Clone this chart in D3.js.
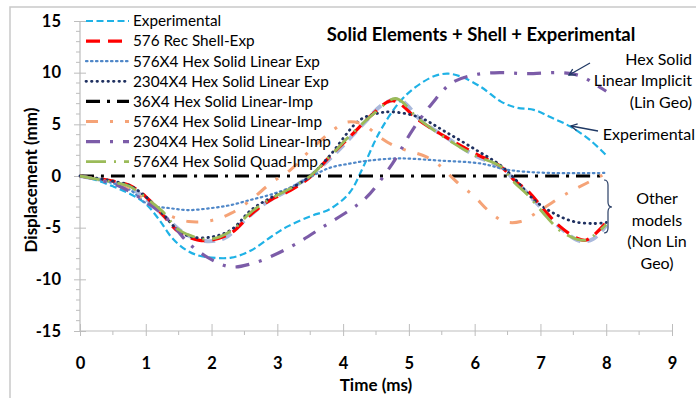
<!DOCTYPE html>
<html>
<head>
<meta charset="utf-8">
<script src="https://cdn.jsdelivr.net/npm/d3@7"></script>
<style>
  html, body { margin: 0; padding: 0; background: #fff; }
  svg { display: block; }
  text { font-family: Lato, "Open Sans", "Liberation Sans", sans-serif; fill: #000; }
</style>
</head>
<body>
<svg id="chart" width="696" height="398"></svg>
<script>
// ---------------- data ----------------
const xTicks = [0, 1, 2, 3, 4, 5, 6, 7, 8, 9];
const yTicks = [-15, -10, -5, 0, 5, 10, 15];

const seriesNames = [
  "Experimental",
  "576 Rec Shell-Exp",
  "576X4 Hex Solid Linear Exp",
  "2304X4 Hex Solid Linear Exp",
  "36X4 Hex Solid Linear-Imp",
  "576X4 Hex Solid Linear-Imp",
  "2304X4 Hex Solid Linear-Imp",
  "576X4 Hex Solid Quad-Imp"
];

const expT = [0, 0.25, 0.5, 0.75, 1.0, 1.2, 1.4, 1.6, 1.8, 2.0, 2.3, 2.6, 2.9, 3.15, 3.5, 3.8, 4.1, 4.3, 4.55, 4.85, 5.1, 5.4, 5.6, 5.8, 6.1, 6.4, 6.65, 6.9, 7.15, 7.45, 7.75, 8.0];
const expY = [0, -0.4, -1.0, -1.7, -2.7, -4.2, -6.0, -7.1, -7.7, -7.9, -7.9, -7.2, -5.9, -4.9, -3.9, -3.2, -1.6, 0.8, 4.2, 7.1, 8.6, 9.7, 9.9, 9.6, 8.6, 7.2, 6.6, 6.4, 5.7, 4.8, 3.5, 2.0];

const shellT = [0, 0.25, 0.5, 0.75, 1.0, 1.25, 1.5, 1.8, 2.0, 2.3, 2.6, 2.9, 3.2, 3.5, 3.8, 4.15, 4.45, 4.75, 5.15, 5.55, 6.0, 6.4, 6.6, 6.8, 7.1, 7.3, 7.55, 7.7, 8.0];
const shellY = [0, -0.2, -0.5, -0.9, -2.0, -3.7, -5.4, -6.2, -6.2, -5.5, -3.7, -2.3, -1.4, -0.1, 1.9, 4.1, 6.0, 7.3, 5.4, 3.8, 2.2, 0.9, -0.4, -1.4, -3.6, -4.9, -6.0, -6.2, -4.5];

const lin576ExpT = [0, 0.25, 0.5, 0.75, 1.05, 1.35, 1.65, 2.0, 2.3, 2.6, 2.9, 3.2, 3.5, 3.8, 4.1, 4.4, 4.85, 5.45, 6.1, 6.5, 7.1, 8.0];
const lin576ExpY = [0, -0.3, -0.7, -1.3, -2.8, -3.1, -3.3, -3.1, -2.8, -2.3, -1.8, -1.1, -0.1, 0.8, 1.2, 1.5, 1.7, 1.5, 1.2, 0.6, 0.3, 0.3];

const lin2304ExpT = [0, 0.25, 0.5, 0.75, 1.0, 1.25, 1.5, 1.7, 2.0, 2.3, 2.6, 2.9, 3.2, 3.5, 3.8, 4.25, 4.55, 4.75, 5.15, 5.55, 6.0, 6.4, 6.6, 6.9, 7.2, 7.5, 7.8, 8.0];
const lin2304ExpY = [0, -0.2, -0.5, -0.9, -2.0, -3.6, -5.3, -5.9, -5.9, -5.2, -3.3, -2.1, -1.2, 0.0, 2.0, 5.4, 6.1, 6.2, 5.7, 4.3, 2.6, 1.0, -0.2, -2.3, -3.6, -4.4, -4.6, -4.5];

const lin36ImpT = [0, 2, 4, 6, 8];
const lin36ImpY = [0, 0, 0, 0, 0];

const lin576ImpT = [0, 0.25, 0.5, 0.75, 1.05, 1.35, 1.65, 2.0, 2.3, 2.6, 2.9, 3.2, 3.5, 3.8, 4.05, 4.3, 4.55, 4.75, 4.95, 5.25, 5.45, 5.75, 6.0, 6.2, 6.45, 6.7, 7.0, 7.4, 7.7, 7.95];
const lin576ImpY = [0, -0.3, -0.7, -1.3, -2.6, -3.8, -4.4, -4.3, -3.6, -2.3, -0.7, 0.6, 2.5, 4.2, 5.2, 5.0, 3.8, 3.0, 2.5, 1.9, 1.1, -0.7, -2.0, -3.3, -4.4, -4.4, -3.3, -1.7, -0.7, 0.1];

const lin2304ImpT = [0, 0.3, 0.6, 1.05, 1.35, 1.65, 2.0, 2.3, 2.6, 2.9, 3.3, 3.7, 4.1, 4.35, 4.75, 5.05, 5.35, 5.65, 6.0, 6.4, 6.8, 7.3, 7.6, 7.9, 8.0];
const lin2304ImpY = [0, -0.4, -1.0, -2.7, -4.3, -6.5, -8.1, -8.8, -8.5, -7.8, -6.5, -4.9, -3.3, -2.1, 1.2, 4.4, 7.0, 9.0, 9.8, 10.0, 9.9, 10.0, 9.7, 8.6, 8.2];

const quad576ImpT = [0, 0.25, 0.5, 0.75, 1.0, 1.25, 1.5, 1.8, 2.0, 2.3, 2.6, 2.9, 3.2, 3.5, 3.8, 4.15, 4.5, 4.8, 5.15, 5.55, 6.0, 6.4, 6.6, 6.8, 7.1, 7.3, 7.55, 7.7, 8.0];
const quad576ImpY = [0, -0.3, -0.6, -1.0, -2.1, -3.4, -5.2, -6.0, -6.1, -5.3, -3.5, -2.2, -1.2, 0.0, 1.9, 4.2, 6.2, 7.5, 5.5, 3.7, 2.0, 0.9, -0.6, -1.8, -4.0, -5.3, -6.1, -6.2, -4.7];

// extra unlabelled series visible under the red / green curves
const extraT = [0, 0.25, 0.5, 0.75, 1.0, 1.3, 1.6, 1.9, 2.2, 2.5, 2.8, 3.1, 3.5, 3.9, 4.3, 4.6, 4.85, 5.2, 5.6, 6.0, 6.4, 6.7, 7.0, 7.3, 7.6, 7.8, 8.0];
const extraY = [0, -0.3, -0.6, -1.1, -2.2, -4.0, -5.6, -6.3, -6.0, -4.3, -2.7, -1.6, 0.0, 2.3, 5.0, 6.9, 7.4, 5.3, 3.6, 2.0, 0.8, -1.0, -3.0, -5.0, -6.3, -6.1, -4.8];

// ---------------- layout ----------------
const svg = d3.select("#chart");
const x = d3.scaleLinear().domain([0, 9]).range([80, 672]);
const y = d3.scaleLinear().domain([-15, 15]).range([331, 21]);

// outer chart frame
svg.append("path").attr("d", "M10,398 L10,7 L696,7")
  .attr("fill", "none").attr("stroke", "#c9c9c9").attr("stroke-width", 1.5);

const axisColor = "#bdbdbd";
// y minor ticks
const yMinor = d3.range(-15, 15.01, 1).filter(v => v % 5 !== 0);
svg.append("g").selectAll("line").data(yMinor).join("line")
  .attr("x1", 76).attr("x2", 80).attr("y1", d => y(d)).attr("y2", d => y(d))
  .attr("stroke", axisColor).attr("stroke-width", 1);
// x minor ticks
const xMinor = d3.range(0.5, 9, 1);
svg.append("g").selectAll("line").data(xMinor).join("line")
  .attr("y1", 331).attr("y2", 335).attr("x1", d => x(d)).attr("x2", d => x(d))
  .attr("stroke", axisColor).attr("stroke-width", 1);

// axes via d3
const yAxis = d3.axisLeft(y).tickValues(yTicks).tickSize(6).tickPadding(10)
  .tickFormat(d => String(d));
const gy = svg.append("g").attr("transform", "translate(80,0)").call(yAxis);
gy.select(".domain").attr("stroke", axisColor).attr("stroke-width", 1.2)
  .attr("d", `M0,${y(15)}V${y(-15)}`);
gy.selectAll(".tick line").attr("stroke", axisColor).attr("x2", -6).attr("x1", 6);
gy.selectAll(".tick text").attr("font-size", 16.5).attr("font-weight", "bold")
  .attr("font-family", "Lato, sans-serif").attr("x", -19).attr("fill", "#000");

const xAxis = d3.axisBottom(x).tickValues(xTicks).tickSize(5).tickPadding(21)
  .tickFormat(d => String(d));
const gx = svg.append("g").attr("transform", "translate(0,331)").call(xAxis);
gx.select(".domain").attr("stroke", axisColor).attr("stroke-width", 1.2)
  .attr("d", `M${x(0)},0H${x(9)}`);
gx.selectAll(".tick line").attr("stroke", axisColor).attr("y1", -7).attr("y2", 5);
gx.selectAll(".tick text").attr("font-size", 16.5).attr("font-weight", "bold")
  .attr("font-family", "Lato, sans-serif").attr("fill", "#000");

// ---------------- series ----------------
const zip = (t, v) => t.map((d, i) => [d, v[i]]);
const line = d3.line().x(d => x(d[0])).y(d => y(d[1])).curve(d3.curveCatmullRom.alpha(0.5));

const styles = [
  { data: zip(extraT, extraY), color: "#aab9dc", width: 4, dash: "11,7", legend: false },
  { data: zip(expT, expY), color: "#1fb2e6", width: 2.2, dash: "7,3.5", legend: true, name: seriesNames[0] },
  { data: zip(shellT, shellY), color: "#ff0000", width: 3.2, dash: "14,8", legend: true, name: seriesNames[1] },
  { data: zip(lin576ExpT, lin576ExpY), color: "#4f87c8", width: 2.2, dash: "1.5,3.5", cap: "round", legend: true, name: seriesNames[2] },
  { data: zip(lin2304ExpT, lin2304ExpY), color: "#1f3060", width: 2.8, dash: "0.5,5", cap: "round", legend: true, name: seriesNames[3] },
  { data: zip(lin36ImpT, lin36ImpY), color: "#000000", width: 3.2, dash: "14,7,3,7", legend: true, name: seriesNames[4] },
  { data: zip(lin576ImpT, lin576ImpY), color: "#f5a377", width: 3, dash: "12,12,3,12", legend: true, name: seriesNames[5] },
  { data: zip(lin2304ImpT, lin2304ImpY), color: "#7c5ca8", width: 3.2, dash: "14,10,3,10", legend: true, name: seriesNames[6] },
  { data: zip(quad576ImpT, quad576ImpY), color: "#9bbb59", width: 2.8, dash: "20,8,2,8", legend: true, name: seriesNames[7] }
];

const plot = svg.append("g");
styles.forEach(s => {
  plot.append("path").datum(s.data).attr("d", line)
    .attr("fill", "none").attr("stroke", s.color).attr("stroke-width", s.width)
    .attr("stroke-dasharray", s.dash).attr("stroke-linecap", s.cap || "butt");
});

// ---------------- legend ----------------
const legendItems = styles.filter(s => s.legend);
const lg = svg.append("g");
legendItems.forEach((s, i) => {
  const yy = 21 + i * 20.1;
  lg.append("line").attr("x1", 86).attr("x2", 129).attr("y1", yy).attr("y2", yy)
    .attr("stroke", s.color).attr("stroke-width", s.width)
    .attr("stroke-dasharray", s.dash).attr("stroke-linecap", s.cap || "butt");
  lg.append("text").attr("x", 133).attr("y", yy).attr("dy", "0.35em")
    .attr("font-size", 15.3).text(s.name);
});

// ---------------- titles & annotations ----------------
svg.append("text").attr("x", 481).attr("y", 35).attr("dy", "0.35em")
  .attr("text-anchor", "middle").attr("font-size", 18.5).attr("font-weight", "bold")
  .text("Solid Elements + Shell + Experimental");

svg.append("text").attr("x", 376).attr("y", 385).attr("dy", "0.35em")
  .attr("text-anchor", "middle").attr("font-size", 17).attr("font-weight", "bold")
  .text("Time (ms)");

svg.append("text").attr("transform", "translate(31,180) rotate(-90)").attr("dy", "0.35em")
  .attr("text-anchor", "middle").attr("font-size", 17).attr("font-weight", "bold")
  .text("Displacement (mm)");

const annot = [
  { t: "Hex Solid", x: 692, y: 59, a: "end" },
  { t: "Linear Implicit", x: 692, y: 80, a: "end" },
  { t: "(Lin Geo)", x: 692, y: 102, a: "end" },
  { t: "Experimental", x: 695, y: 134, a: "end" },
  { t: "Other", x: 657, y: 198, a: "middle" },
  { t: "models", x: 657, y: 220, a: "middle" },
  { t: "(Non Lin", x: 657, y: 241, a: "middle" },
  { t: "Geo)", x: 657, y: 263, a: "middle" }
];
annot.forEach(d => {
  svg.append("text").attr("x", d.x).attr("y", d.y).attr("dy", "0.35em")
    .attr("text-anchor", d.a).attr("font-size", 16).text(d.t);
});

// arrows
const arrowColor = "#1f3864";
const arrows = [ [590, 63, 569, 75], [598, 131, 571, 126] ];
arrows.forEach(([x1, y1, x2, y2]) => {
  svg.append("line").attr("x1", x1).attr("y1", y1).attr("x2", x2).attr("y2", y2)
    .attr("stroke", arrowColor).attr("stroke-width", 1.3);
  const ang = Math.atan2(y2 - y1, x2 - x1);
  const L = 7, w = 0.5;
  const p1 = [x2 - L * Math.cos(ang - w), y2 - L * Math.sin(ang - w)];
  const p2 = [x2 - L * Math.cos(ang + w), y2 - L * Math.sin(ang + w)];
  svg.append("path").attr("d", `M${p1[0]},${p1[1]} L${x2},${y2} L${p2[0]},${p2[1]}`)
    .attr("fill", "none").attr("stroke", arrowColor).attr("stroke-width", 1.3);
});

// brace
svg.append("path")
  .attr("d", "M604,180 Q608,180 608,185 L608,202 Q608,207 612,207 Q608,207 608,212 L608,228 Q608,233 604,233")
  .attr("fill", "none").attr("stroke", "#2a3f66").attr("stroke-width", 1.2);
</script>
</body>
</html>
